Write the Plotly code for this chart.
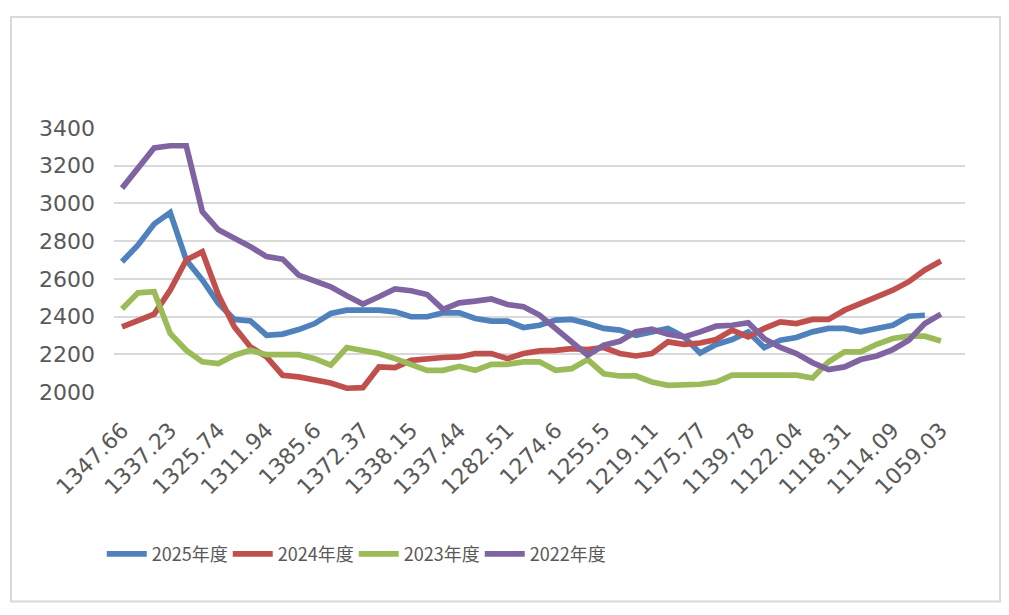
import plotly.graph_objects as go

# category tick labels (every 3rd of 53 categories)
tick_labels = ["1347.66", "1337.23", "1325.74", "1311.94", "1385.6", "1372.37",
               "1338.15", "1337.44", "1282.51", "1274.6", "1255.5", "1219.11",
               "1175.77", "1139.78", "1122.04", "1118.31", "1114.09", "1059.03"]
n_categories = 53

s2025 = [2691, 2780, 2891, 2952, 2700, 2594, 2470, 2385, 2377, 2301,
         2307, 2331, 2363, 2416, 2434, 2434, 2434, 2425, 2399, 2399,
         2420, 2420, 2390, 2376, 2376, 2342, 2354, 2381, 2385, 2363,
         2337, 2328, 2301, 2319, 2337, 2292, 2207, 2252, 2278, 2319,
         2236, 2275, 2289, 2319, 2337, 2337, 2319, 2337, 2354, 2402,
         2407]
s2024 = [2345, 2377, 2413, 2540, 2700, 2744, 2514, 2345, 2239, 2186,
         2089, 2080, 2066, 2048, 2020, 2023, 2133, 2129, 2168, 2177,
         2183, 2186, 2204, 2204, 2177, 2204, 2218, 2221, 2230, 2225,
         2236, 2204, 2191, 2204, 2266, 2253, 2260, 2278, 2328, 2292,
         2337, 2372, 2363, 2385, 2385, 2434, 2466, 2505, 2540, 2585,
         2647, 2695]
s2023 = [2440, 2526, 2532, 2310, 2221, 2160, 2151, 2195, 2221, 2198,
         2198, 2198, 2177, 2142, 2236, 2221, 2204, 2177, 2142, 2115,
         2115, 2136, 2115, 2147, 2147, 2160, 2160, 2115, 2124, 2172,
         2097, 2085, 2085, 2053, 2035, 2035, 2041, 2053, 2089, 2089,
         2087, 2085, 2089, 2074, 2160, 2213, 2213, 2253, 2284, 2296,
         2296, 2271]
s2022 = [3081, 3187, 3294, 3306, 3306, 2957, 2860, 2815, 2771, 2718,
         2705, 2620, 2588, 2558, 2510, 2466, 2505, 2546, 2537, 2517,
         2438, 2473, 2482, 2493, 2464, 2452, 2408, 2337, 2257, 2195,
         2248, 2269, 2319, 2333, 2307, 2292, 2319, 2349, 2354, 2367,
         2283, 2236, 2204, 2156, 2119, 2133, 2172, 2191, 2225, 2275,
         2363, 2413]

series = [("2025年度", s2025, "#4F81BD"),
          ("2024年度", s2024, "#C0504D"),
          ("2023年度", s2023, "#9BBB59"),
          ("2022年度", s2022, "#8064A2")]

fig = go.Figure()
for name, vals, color in series:
    fig.add_trace(go.Scatter(
        x=list(range(len(vals))), y=vals, mode="lines", name=name,
        line=dict(color=color, width=5.7)))

fig.update_layout(
    width=1001, height=607,
    margin=dict(l=106, r=44, t=120, b=223),
    paper_bgcolor="white", plot_bgcolor="white",
    font=dict(family="DejaVu Sans", color="#595959"),
    showlegend=True,
    legend=dict(orientation="h", x=-0.0144, xanchor="left", y=-0.614, yanchor="middle",
                font=dict(family="Noto Sans CJK SC", size=18, color="#595959"),
                itemwidth=40, entrywidth=71, entrywidthmode="pixels",
                tracegroupgap=0, bgcolor="rgba(0,0,0,0)"),
    xaxis=dict(range=[-0.5, n_categories - 0.5],
               tickvals=list(range(0, n_categories, 3)), ticktext=tick_labels,
               tickangle=-45, showgrid=False, zeroline=False, showline=False,
               ticks="", ticklabelstandoff=20,
               tickfont=dict(size=22, color="#595959")),
    yaxis=dict(range=[2000, 3400], dtick=200, showgrid=True, gridcolor="#D9D9D9",
               gridwidth=1.5, zeroline=False, showline=False, ticks="",
               ticklabelstandoff=18,
               tickfont=dict(size=22, color="#595959")),
    shapes=[dict(type="rect", xref="paper", yref="paper",
                 x0=(11 - 114) / 851, x1=(1000 - 114) / 851,
                 y0=(392 - 601.5) / 264, y1=(392 - 17) / 264,
                 line=dict(color="#D9D9D9", width=2), fillcolor="rgba(0,0,0,0)",
                 layer="below")],
)

fig.write_html("out.html")
